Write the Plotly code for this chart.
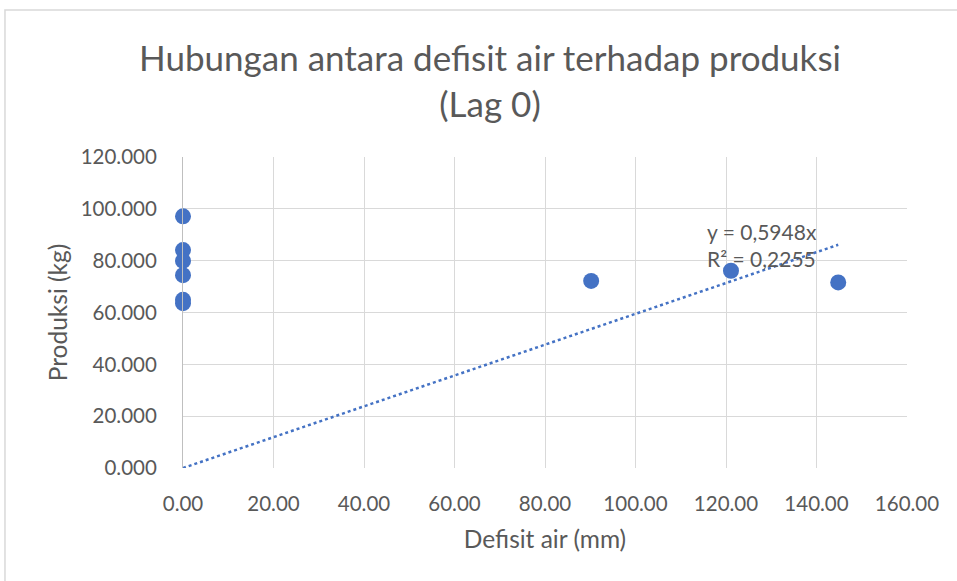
import plotly.graph_objects as go

defisit = [0, 0, 0, 0, 0, 0, 90.2, 121.1, 144.8]
produksi = [97.1, 84.1, 79.9, 74.4, 64.9, 63.6, 72.2, 76.1, 71.6]
slope = 0.5948
trend_x = [0, max(defisit)]
trend_y = [slope * v for v in trend_x]
x_ticks = [0, 20, 40, 60, 80, 100, 120, 140, 160]
y_ticks = [0, 20, 40, 60, 80, 100, 120]

FONT = "Lato"
GRAY = "#595959"
BLUE = "#4472C4"

fig = go.Figure()
fig.add_trace(go.Scatter(x=trend_x, y=trend_y, mode="lines",
                         line=dict(color=BLUE, width=2.5, dash="dot"),
                         hoverinfo="skip", showlegend=False, cliponaxis=False))
fig.add_trace(go.Scatter(x=defisit, y=produksi, mode="markers",
                         marker=dict(color=BLUE, size=16),
                         showlegend=False, cliponaxis=False))

fig.add_annotation(x=115.4, y=91.1, xref="x", yref="y", text="y = 0,5948x",
                   showarrow=False, xanchor="left", yanchor="middle",
                   font=dict(family=FONT, size=21, color=GRAY))
fig.add_annotation(x=115.4, y=80.7, xref="x", yref="y", text="R² = 0,2255",
                   showarrow=False, xanchor="left", yanchor="middle",
                   font=dict(family=FONT, size=21, color=GRAY))

fig.add_annotation(x=0.4247, y=1.246, xref="paper", yref="paper",
                   text="Hubungan antara defisit air terhadap produksi<br>(Lag 0)",
                   showarrow=False, xanchor="center", yanchor="middle",
                   font=dict(family=FONT, size=35, color=GRAY))

fig.add_shape(type="rect", xref="paper", yref="paper",
              x0=-0.2459, y0=-0.5, x1=1.2, y1=1.4727,
              line=dict(color="#d9d9d9", width=1.5), layer="below")

fig.update_layout(
    width=957, height=581,
    margin=dict(l=183, r=50, t=157, b=113),
    paper_bgcolor="white", plot_bgcolor="white",
    font=dict(family=FONT, size=20, color=GRAY),
    xaxis=dict(range=[0, 160], tickvals=x_ticks, tickformat=".2f",
               showgrid=True, gridcolor="#d9d9d9", gridwidth=1,
               zeroline=False, showline=False, ticks="", ticklabelstandoff=21,
               title=dict(text="Defisit air (mm)", font=dict(family=FONT, size=24.5, color=GRAY), standoff=17),
               tickfont=dict(family=FONT, size=20.5, color=GRAY)),
    yaxis=dict(range=[0, 120], tickvals=y_ticks, tickformat=".3f",
               showgrid=True, gridcolor="#d9d9d9", gridwidth=1,
               zeroline=False, showline=True, linecolor="#bfbfbf", ticks="", ticklabelstandoff=21,
               title=dict(text="Produksi (kg)", font=dict(family=FONT, size=24.5, color=GRAY), standoff=6),
               tickfont=dict(family=FONT, size=20.5, color=GRAY)),
)
fig.write_html("out.html", post_script="document.body.style.margin='0';",
               config={"displayModeBar": False})
